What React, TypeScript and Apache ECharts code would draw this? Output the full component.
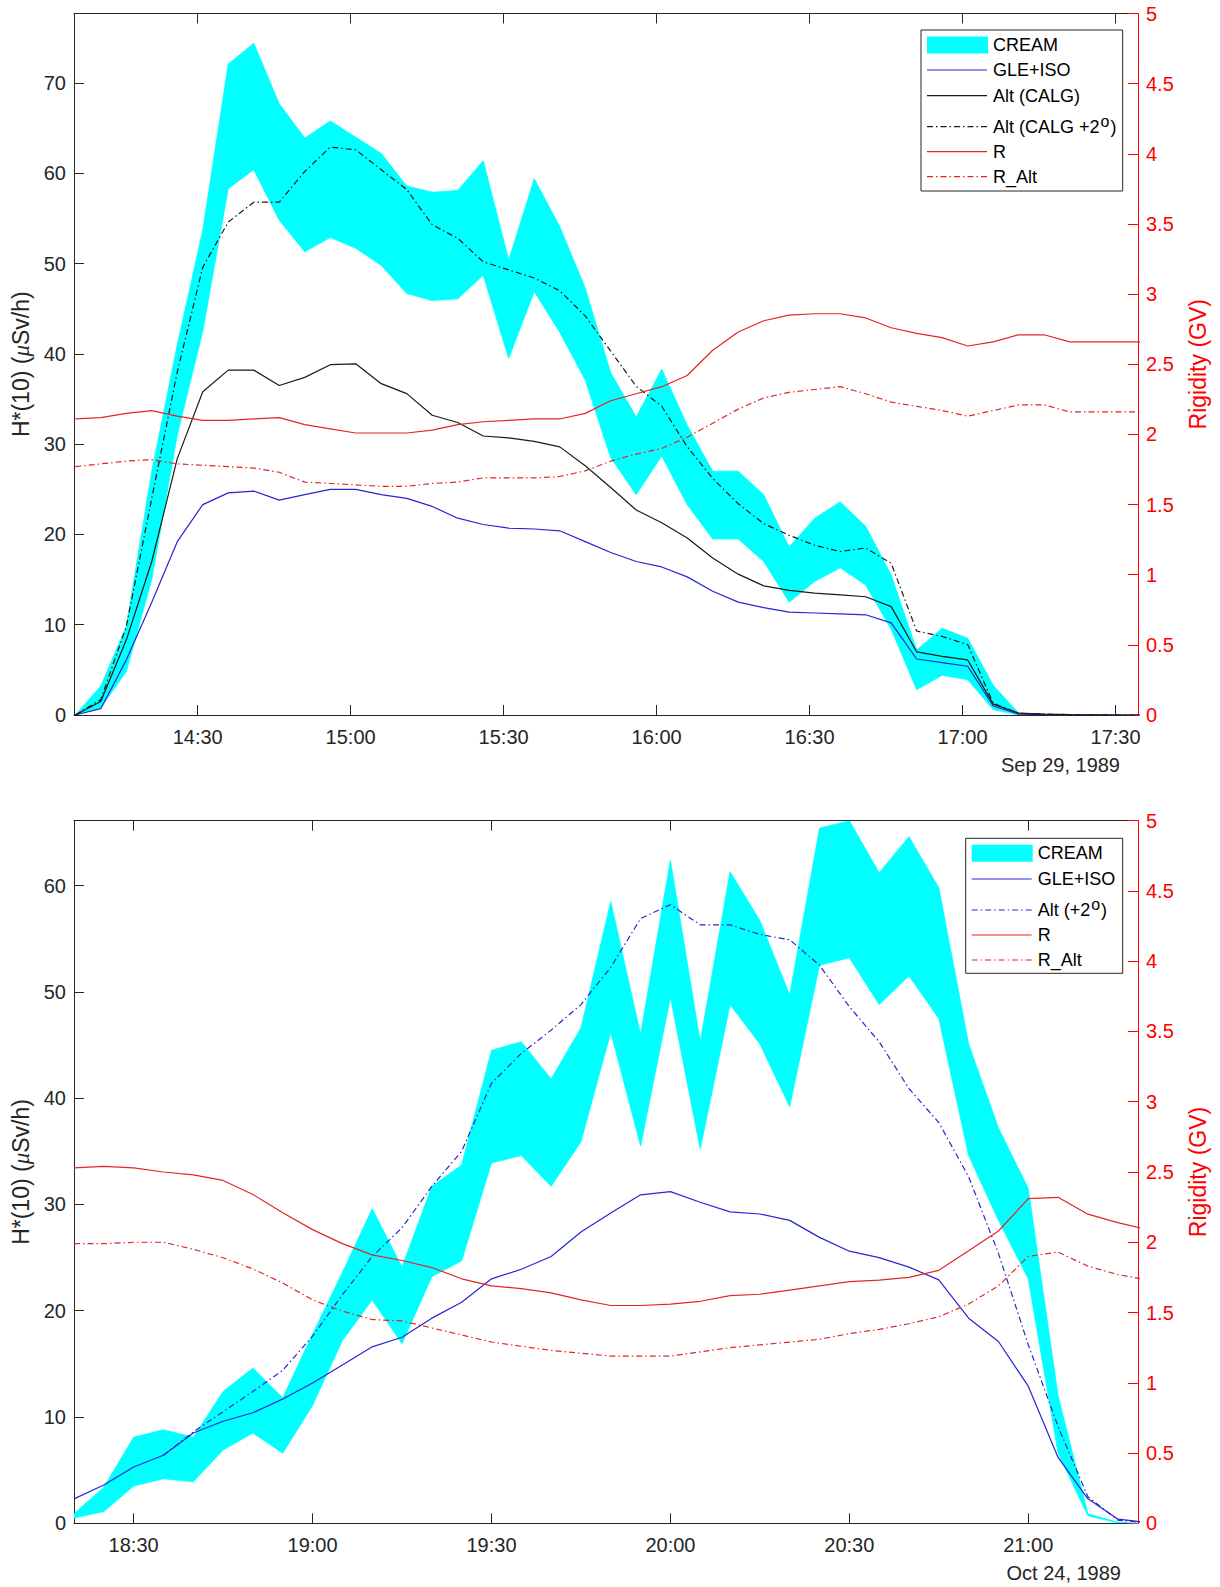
import React, { useEffect, useRef } from "react";
import * as echarts from "echarts";

// ---------- Panel 1: Sep 29, 1989 ----------
const TOP_TIMES = ["14:06","14:11","14:16","14:21","14:26","14:31","14:36","14:41","14:46","14:51","14:56","15:01","15:06","15:11","15:16","15:21","15:26","15:31","15:36","15:41","15:46","15:51","15:56","16:01","16:06","16:11","16:16","16:21","16:26","16:31","16:36","16:41","16:46","16:51","16:56","17:01","17:06","17:11","17:16","17:21","17:26","17:31","17:35"];
const TOP_CREAM_UPPER = [0,3.2,9.8,27,41,53.7,72.1,74.4,67.7,63.9,65.8,64.0,62.2,58.6,57.9,58.1,61.4,50.4,59.4,54.1,47.3,37.9,33.0,38.3,32.1,27.0,27.0,24.4,18.6,21.8,23.6,20.9,15.5,7.2,9.6,8.5,3.3,0.2];
const TOP_CREAM_LOWER = [0,0.8,4.8,15,31,42.5,58.3,60.4,54.8,51.3,52.9,51.7,49.8,46.7,45.9,46.1,48.7,39.5,46.9,42.4,37.1,28.5,24.4,28.7,23.3,19.5,19.5,17.0,12.5,14.8,16.3,14.4,9.5,2.8,4.4,3.9,0.6,0];
const TOP_GLE_ISO = [0,0.7,6.1,12.5,19.2,23.3,24.6,24.8,23.8,24.4,25.0,25.0,24.4,24.0,23.1,21.8,21.1,20.7,20.6,20.4,19.2,18.0,17.0,16.4,15.3,13.7,12.5,11.9,11.4,11.3,11.2,11.1,10.2,6.2,5.8,5.4,1.0,0.1,0.05,0.02,0,0,0];
const TOP_ALT_CALG = [0,1.5,8.3,17,28.4,35.8,38.2,38.2,36.5,37.4,38.8,38.9,36.7,35.6,33.2,32.4,30.9,30.7,30.3,29.7,27.6,25.2,22.7,21.3,19.6,17.4,15.6,14.3,13.8,13.5,13.3,13.1,12.0,7.0,6.5,6.1,1.2,0.2,0.1,0.05,0.02,0,0];
const TOP_ALT_CALG2 = [0,1.7,9.8,24,38,49.6,54.6,56.8,56.8,60.2,62.9,62.6,60.4,58.2,54.3,52.8,50.2,49.3,48.4,47.0,44.2,40.3,36.4,34.2,29.7,26.2,23.4,21.2,19.9,18.8,18.1,18.5,16.8,9.3,8.7,7.8,1.3,0.2,0.1,0.05,0.02,0,0];
const TOP_R = [2.11,2.12,2.15,2.17,2.13,2.10,2.10,2.11,2.12,2.07,2.04,2.01,2.01,2.01,2.03,2.07,2.09,2.10,2.11,2.11,2.15,2.24,2.29,2.34,2.42,2.60,2.73,2.81,2.85,2.86,2.86,2.83,2.76,2.72,2.69,2.63,2.66,2.71,2.71,2.66,2.66,2.66,2.66];
const TOP_R_ALT = [1.77,1.79,1.81,1.82,1.79,1.78,1.77,1.76,1.73,1.66,1.65,1.64,1.63,1.63,1.65,1.66,1.69,1.69,1.69,1.70,1.74,1.81,1.86,1.90,1.98,2.08,2.18,2.26,2.30,2.32,2.34,2.29,2.23,2.20,2.17,2.13,2.17,2.21,2.21,2.16,2.16,2.16,2.16];
const TOP_X_TICKS = ["14:30","15:00","15:30","16:00","16:30","17:00","17:30"];
const TOP_Y_TICKS = [0,10,20,30,40,50,60,70];

// ---------- Panel 2: Oct 24, 1989 ----------
const BOT_TIMES = ["18:20","18:25","18:30","18:35","18:40","18:45","18:50","18:55","19:00","19:05","19:10","19:15","19:20","19:25","19:30","19:35","19:40","19:45","19:50","19:55","20:00","20:05","20:10","20:15","20:20","20:25","20:30","20:35","20:40","20:45","20:50","20:55","21:00","21:05","21:10","21:15","21:19"];
const BOT_CREAM_UPPER = [0.9,3.4,8.1,8.8,8.1,12.4,14.6,11.8,17.8,23.6,29.6,24.1,31.7,33.7,44.5,45.3,41.8,46.6,58.5,46.0,62.4,45.3,61.3,56.7,49.7,65.4,66.1,61.2,64.6,59.8,45.1,37.2,31.5,12.0,0.9,0.1,0];
const BOT_CREAM_LOWER = [0.5,1.1,3.5,4.2,3.9,6.9,8.5,6.6,11.1,17.2,21.0,16.9,23.2,24.7,33.9,34.6,31.7,35.9,46.2,35.5,49.5,35.2,48.8,45.1,39.2,52.5,53.2,48.8,51.5,47.5,34.6,28.5,23.0,6.6,0.7,0.05,0];
const BOT_GLE_ISO = [2.3,3.6,5.3,6.4,8.5,9.6,10.4,11.7,13.2,14.9,16.6,17.5,19.3,20.8,23.0,23.9,25.1,27.4,29.2,30.9,31.2,30.2,29.3,29.1,28.5,26.9,25.6,25.0,24.1,22.9,19.3,17.1,12.9,6.2,2.3,0.4,0.15];
const BOT_ALT2 = [null,null,null,6.4,8.6,10.5,12.4,14.4,17.6,21.5,25.1,27.8,31.7,35.0,41.4,44.2,46.4,48.8,52.3,56.9,58.2,56.3,56.3,55.4,54.9,52.5,48.6,45.3,40.9,37.7,32.6,25.4,16.8,9.1,2.5,0.3,0.1];
const BOT_R = [2.53,2.54,2.53,2.50,2.48,2.44,2.34,2.21,2.09,1.99,1.91,1.87,1.82,1.74,1.69,1.67,1.64,1.59,1.55,1.55,1.56,1.58,1.62,1.63,1.66,1.69,1.72,1.73,1.75,1.80,1.94,2.08,2.31,2.32,2.20,2.14,2.10];
const BOT_R_ALT = [1.99,1.99,2.00,2.00,1.95,1.89,1.81,1.71,1.59,1.51,1.45,1.44,1.39,1.34,1.29,1.26,1.23,1.21,1.19,1.19,1.19,1.22,1.25,1.27,1.29,1.31,1.35,1.38,1.42,1.47,1.56,1.69,1.90,1.93,1.83,1.77,1.74];
const BOT_X_TICKS = ["18:30","19:00","19:30","20:00","20:30","21:00"];
const BOT_Y_TICKS = [0,10,20,30,40,50,60];

const R_TICKS = [0,0.5,1,1.5,2,2.5,3,3.5,4,4.5,5];

const FONT = "'Liberation Sans', Arial, Helvetica, sans-serif";
const AX = "#262626";
const RED_AX = "#ff0000";
const C_CYAN = "#00ffff";
const C_BLUE = "#2626d4";
const C_BLACK = "#1a1a1a";
const C_RED = "#e52525";
const DASHDOT = [6, 3, 1.5, 3];

const toMin = (s: string) => {
  const [h, m] = s.split(":").map(Number);
  return h * 60 + m;
};
const fmt = (v: number) => {
  const h = Math.floor(v / 60);
  const m = Math.round(v - h * 60);
  return `${h}:${String(m).padStart(2, "0")}`;
};

function pairs(times: string[], vals: (number | null)[]) {
  const out: number[][] = [];
  vals.forEach((v, i) => {
    if (v !== null && v !== undefined) out.push([toMin(times[i]), v]);
  });
  return out;
}

function lineSeries(name: string, gi: number, yRight: boolean, times: string[], vals: (number | null)[], color: string, dashed: boolean) {
  return {
    name,
    type: "line",
    xAxisIndex: gi * 2,
    yAxisIndex: gi * 2 + (yRight ? 1 : 0),
    data: pairs(times, vals),
    showSymbol: false,
    symbol: "none",
    silent: true,
    clip: true,
    z: 3,
    lineStyle: { color, width: 1.2, type: dashed ? DASHDOT : "solid" },
  };
}

function bandSeries(gi: number, times: string[], upper: number[], lower: number[]) {
  return {
    type: "custom",
    xAxisIndex: gi * 2,
    yAxisIndex: gi * 2,
    coordinateSystem: "cartesian2d",
    silent: true,
    clip: true,
    z: 2,
    data: [[toMin(times[0]), 0]],
    renderItem: (_p: any, api: any) => {
      const pts: number[][] = [];
      for (let i = 0; i < upper.length; i++) pts.push(api.coord([toMin(times[i]), upper[i]]));
      for (let i = lower.length - 1; i >= 0; i--) pts.push(api.coord([toMin(times[i]), lower[i]]));
      return {
        type: "polygon",
        shape: { points: pts },
        style: { fill: C_CYAN, stroke: C_CYAN, lineWidth: 0.8 },
      };
    },
  };
}

function xAxes(gi: number, min: number, max: number, ticks: string[]) {
  const vals = ticks.map(toMin);
  return [
    {
      type: "value",
      gridIndex: gi,
      position: "bottom",
      min,
      max,
      axisLine: { show: true, onZero: false, lineStyle: { color: AX, width: 1 } },
      axisTick: { show: true, inside: true, length: 10, customValues: vals, lineStyle: { color: AX, width: 1 } },
      axisLabel: { show: true, customValues: vals, formatter: (v: number) => fmt(v), color: AX, fontSize: 20, fontFamily: FONT, margin: 12 },
      splitLine: { show: false },
    },
    {
      type: "value",
      gridIndex: gi,
      position: "top",
      min,
      max,
      axisLine: { show: true, onZero: false, lineStyle: { color: AX, width: 1 } },
      axisTick: { show: true, inside: true, length: 10, customValues: vals, lineStyle: { color: AX, width: 1 } },
      axisLabel: { show: false },
      splitLine: { show: false },
    },
  ];
}

function yAxes(gi: number, max: number, ticks: number[]) {
  return [
    {
      type: "value",
      gridIndex: gi,
      position: "left",
      min: 0,
      max,
      axisLine: { show: true, onZero: false, lineStyle: { color: AX, width: 1 } },
      axisTick: { show: true, inside: true, length: 10, customValues: ticks, lineStyle: { color: AX, width: 1 } },
      axisLabel: { show: true, customValues: ticks, color: AX, fontSize: 20, fontFamily: FONT, margin: 8 },
      splitLine: { show: false },
      name: "H*(10) ({mu|\u03bc}Sv/h)",
      nameLocation: "middle",
      nameGap: 31,
      nameTextStyle: {
        color: AX,
        fontSize: 23,
        fontFamily: FONT,
        rich: { mu: { fontStyle: "italic", fontSize: 23, fontFamily: "'Liberation Serif', 'DejaVu Serif', serif", color: AX } },
      },
    },
    {
      type: "value",
      gridIndex: gi,
      position: "right",
      min: 0,
      max: 5,
      interval: 0.5,
      axisLine: { show: true, onZero: false, lineStyle: { color: RED_AX, width: 1 } },
      axisTick: { show: true, inside: true, length: 10, lineStyle: { color: RED_AX, width: 1 } },
      axisLabel: { show: true, customValues: R_TICKS, color: RED_AX, fontSize: 20, fontFamily: FONT, margin: 8 },
      splitLine: { show: false },
      name: "Rigidity (GV)",
      nameLocation: "middle",
      nameGap: 48,
      nameTextStyle: { color: RED_AX, fontSize: 23, fontFamily: FONT },
    },
  ];
}

type LegendItem = { label: string; kind: "rect" | "line"; color: string; dashed?: boolean };

function legendGraphic(x: number, y: number, w: number, h: number, rowsY: number[], items: LegendItem[]) {
  const els: any[] = [
    {
      type: "rect",
      shape: { x, y, width: w, height: h },
      style: { fill: "#ffffff", stroke: AX, lineWidth: 1 },
      z: 100,
    },
  ];
  const sx1 = x + 6;
  const sx2 = x + 66;
  items.forEach((it, i) => {
    const cy = rowsY[i];
    if (it.kind === "rect") {
      els.push({ type: "rect", shape: { x: sx1, y: cy - 8.5, width: 61, height: 17 }, style: { fill: it.color }, z: 101 });
    } else {
      els.push({
        type: "line",
        shape: { x1: sx1, y1: cy, x2: sx2, y2: cy },
        style: { stroke: it.color, lineWidth: 1.2, lineDash: it.dashed ? DASHDOT : null },
        z: 101,
      });
    }
    els.push({
      type: "text",
      x: x + 72,
      y: cy,
      z: 101,
      style: {
        text: it.label,
        fill: "#000000",
        fontSize: 18,
        fontFamily: FONT,
        lineHeight: 27,
        align: "left",
        verticalAlign: "middle",
        rich: {
          sup: { fontSize: 16, fontFamily: FONT, fill: "#000000", verticalAlign: "top", lineHeight: 16, padding: [0, 1, 0, 1] },
        },
      },
    });
  });
  return els;
}

export default function App() {
  const ref = useRef<HTMLDivElement>(null);
  useEffect(() => {
    if (!ref.current) return;
    const chart = echarts.init(ref.current, undefined, { renderer: "svg" });

    const topMin = 845.75, topMax = 1054.4;
    const botMin = 1100, botMax = 1278.4;

    const option: any = {
      animation: false,
      backgroundColor: "#ffffff",
      grid: [
        { left: 74, top: 13.5, width: 1064, height: 701.5, containLabel: false },
        { left: 74, top: 820.7, width: 1064, height: 702.6, containLabel: false },
      ],
      xAxis: [...xAxes(0, topMin, topMax, TOP_X_TICKS), ...xAxes(1, botMin, botMax, BOT_X_TICKS)],
      yAxis: [...yAxes(0, 77.7, TOP_Y_TICKS), ...yAxes(1, 66.1, BOT_Y_TICKS)],
      series: [
        bandSeries(0, TOP_TIMES, TOP_CREAM_UPPER, TOP_CREAM_LOWER),
        lineSeries("GLE+ISO", 0, false, TOP_TIMES, TOP_GLE_ISO, C_BLUE, false),
        lineSeries("Alt (CALG)", 0, false, TOP_TIMES, TOP_ALT_CALG, C_BLACK, false),
        lineSeries("Alt (CALG +2o)", 0, false, TOP_TIMES, TOP_ALT_CALG2, C_BLACK, true),
        lineSeries("R", 0, true, TOP_TIMES, TOP_R, C_RED, false),
        lineSeries("R_Alt", 0, true, TOP_TIMES, TOP_R_ALT, C_RED, true),

        bandSeries(1, BOT_TIMES, BOT_CREAM_UPPER, BOT_CREAM_LOWER),
        lineSeries("GLE+ISO", 1, false, BOT_TIMES, BOT_GLE_ISO, C_BLUE, false),
        lineSeries("Alt (+2o)", 1, false, BOT_TIMES, BOT_ALT2, C_BLUE, true),
        lineSeries("R", 1, true, BOT_TIMES, BOT_R, C_RED, false),
        lineSeries("R_Alt", 1, true, BOT_TIMES, BOT_R_ALT, C_RED, true),
      ],
      graphic: [
        ...legendGraphic(921, 30, 201.7, 161, [45, 70, 95.7, 126.7, 151.7, 176.7], [
          { label: "CREAM", kind: "rect", color: C_CYAN },
          { label: "GLE+ISO", kind: "line", color: C_BLUE },
          { label: "Alt (CALG)", kind: "line", color: C_BLACK },
          { label: "Alt (CALG +2{sup|o})", kind: "line", color: C_BLACK, dashed: true },
          { label: "R", kind: "line", color: C_RED },
          { label: "R_Alt", kind: "line", color: C_RED, dashed: true },
        ]),
        ...legendGraphic(965.7, 838.3, 157, 135, [853.3, 879, 910, 935, 960], [
          { label: "CREAM", kind: "rect", color: C_CYAN },
          { label: "GLE+ISO", kind: "line", color: C_BLUE },
          { label: "Alt (+2{sup|o})", kind: "line", color: C_BLUE, dashed: true },
          { label: "R", kind: "line", color: C_RED },
          { label: "R_Alt", kind: "line", color: C_RED, dashed: true },
        ]),
        {
          type: "text",
          x: 1120,
          y: 765,
          style: { text: "Sep 29, 1989", fill: AX, fontSize: 20, fontFamily: FONT, align: "right", verticalAlign: "middle" },
        },
        {
          type: "text",
          x: 1121,
          y: 1573,
          style: { text: "Oct 24, 1989", fill: AX, fontSize: 20, fontFamily: FONT, align: "right", verticalAlign: "middle" },
        },
      ],
    };
    chart.setOption(option);
    return () => chart.dispose();
  }, []);

  return (
    <div
      ref={ref}
      style={{ position: "absolute", left: 0, top: 0, width: 1220, height: 1587, background: "#ffffff" }}
    />
  );
}
